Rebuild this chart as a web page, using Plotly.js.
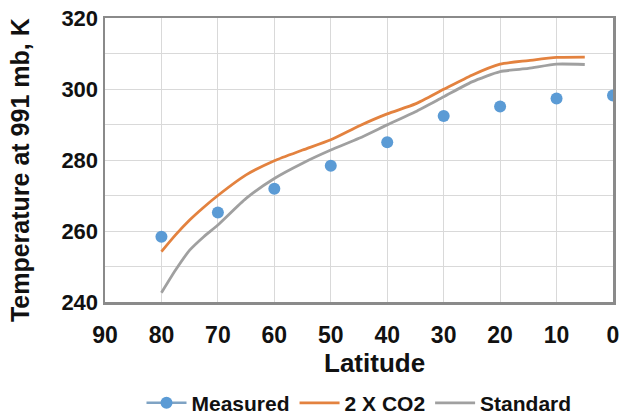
<!DOCTYPE html>
<html>
<head>
<meta charset="utf-8">
<script src="https://cdn.plot.ly/plotly-3.0.1.min.js"></script>
<style>html,body{margin:0;padding:0;background:#fff;}#chart{width:624px;height:420px;}</style>
</head>
<body>
<div id="chart"></div>
<script>
// Measured points
var measuredLat = [80, 70, 60, 50, 40, 30, 20, 10, 0];
var measuredTemp = [258.4, 265.2, 271.9, 278.4, 285.0, 292.4, 295.1, 297.3, 298.2];

// Model curves
var modelLat = [80, 77.5, 75, 72.5, 70, 65, 60, 55, 50, 45, 40, 35, 30, 25, 20, 15, 10, 5];
var co2Temp = [254.2, 258.9, 263.1, 266.7, 270.0, 275.8, 279.8, 282.8, 285.7, 289.6, 293.0, 295.8, 299.9, 303.9, 307.0, 308.0, 308.9, 309.0];
var standardTemp = [242.6, 249.0, 254.6, 258.4, 261.7, 269.2, 274.8, 279.1, 282.8, 286.1, 289.9, 293.6, 297.8, 302.0, 304.9, 305.8, 307.0, 306.9];

var seriesNames = ['Measured', '2 X CO2', 'Standard'];
var xTicks = [90, 80, 70, 60, 50, 40, 30, 20, 10, 0];
var yTicks = [240, 260, 280, 300, 320];
var xTitle = 'Latitude';
var yTitle = 'Temperature at 991 mb, K';

var blue = '#5B9BD5', orange = '#E3823F', gray = '#A0A0A0';
var fontFam = 'Liberation Sans, Arial, sans-serif';
var txt = '#111';

var traces = [
  {x: measuredLat, y: measuredTemp, mode: 'markers', name: seriesNames[0], showlegend: false,
   legendgroup: 'm', marker: {color: blue, size: 12}},
  {x: [null], y: [null], mode: 'lines+markers', name: seriesNames[0], legendgroup: 'm',
   marker: {color: blue, size: 12}, line: {color: '#7FA3C4', width: 2.5}},
  {x: modelLat, y: co2Temp, mode: 'lines', name: seriesNames[1],
   line: {color: orange, width: 2.8, shape: 'spline', smoothing: 0.6}},
  {x: modelLat, y: standardTemp, mode: 'lines', name: seriesNames[2],
   line: {color: gray, width: 2.8, shape: 'spline', smoothing: 0.6}}
];

var layout = {
  width: 624, height: 420,
  margin: {l: 105, r: 11, t: 18, b: 118},
  paper_bgcolor: '#fff', plot_bgcolor: '#fff',
  font: {family: fontFam, color: txt},
  showlegend: true,
  legend: {orientation: 'h', x: 0.5, xanchor: 'center', xref: 'paper',
           y: 0.04, yanchor: 'middle', yref: 'container', itemwidth: 40,
           font: {size: 21, weight: 'bold', family: fontFam, color: txt},
           traceorder: 'normal'},
  xaxis: {
    range: [90, 0], tickvals: xTicks, ticktext: xTicks.map(String), automargin: false,
    showgrid: true, gridcolor: '#d9d9d9', gridwidth: 1,
    showline: true, mirror: true, linecolor: '#8a8a8a', linewidth: 2.5,
    ticks: '', zeroline: false, ticklabelstandoff: 11,
    tickfont: {size: 23, weight: 'bold', family: fontFam, color: txt}
  },
  yaxis: {
    range: [240, 320], tickvals: yTicks, ticktext: yTicks.map(String), automargin: false,
    showgrid: true, gridcolor: '#d9d9d9', gridwidth: 1,
    minor: {dtick: 10, showgrid: true, gridcolor: '#d9d9d9', gridwidth: 1, ticks: ''},
    showline: true, mirror: true, linecolor: '#8a8a8a', linewidth: 2.5,
    ticks: '', zeroline: false,
    tickfont: {size: 22, weight: 'bold', family: fontFam, color: txt}
  },
  annotations: [
    {text: yTitle, xref: 'paper', yref: 'paper', x: -0.167, y: 0.465,
     xanchor: 'center', yanchor: 'middle', textangle: -90, showarrow: false,
     font: {size: 25, weight: 'bold', family: fontFam, color: txt}},
    {text: xTitle, xref: 'paper', yref: 'paper', x: 0.53, y: -0.215,
     xanchor: 'center', yanchor: 'middle', showarrow: false,
     font: {size: 26, weight: 'bold', family: fontFam, color: txt}}
  ]
};

Plotly.newPlot('chart', traces, layout, {displayModeBar: false, staticPlot: true});
</script>
</body>
</html>
